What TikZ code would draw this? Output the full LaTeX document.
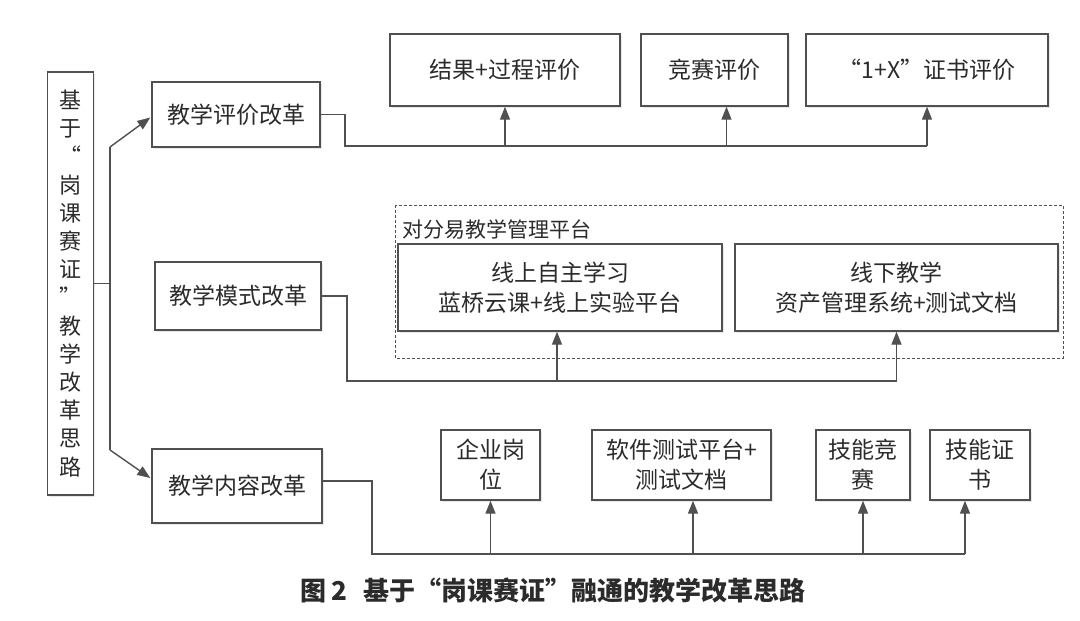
\documentclass[tikz,border=0pt]{standalone}
\usepackage{fontspec}
\setmainfont{Noto Sans CJK SC}
\usetikzlibrary{arrows.meta,calc,shadows}
\definecolor{ln}{HTML}{505050}
\definecolor{tx}{HTML}{2B2B2B}
\begin{document}
\begin{tikzpicture}[x=1pt,y=-1pt,
  box/.style={draw=ln, line width=1.4pt, fill=white, text=tx, align=center,
    inner sep=0pt, font=\fontsize{23}{30}\selectfont,
    drop shadow={opacity=0.18, shadow xshift=1.5pt, shadow yshift=-1.5pt}},
  conn/.style={draw=ln, line width=1.4pt},
  arr/.style={conn, -{Triangle[length=13pt,width=10pt]}},
  dbox/.style={draw=ln, line width=1pt, dash pattern=on 3pt off 2pt}]
\useasboundingbox (0,0) rectangle (1080,621);

% left column
\node[box, minimum width=46pt, minimum height=423pt, font=\fontsize{22}{28.2}\selectfont] (left) at (70.5,283.5)
 {基\\于\\“\\岗\\课\\赛\\证\\”\\教\\学\\改\\革\\思\\路};

\node[box, minimum width=168pt, minimum height=65pt] (evalR) at (236,114.5) {教学评价改革};
\node[box, minimum width=166pt, minimum height=68pt] (modeR) at (238,296) {教学模式改革};
\node[box, minimum width=170pt, minimum height=74pt] (contR) at (237,486) {教学内容改革};

% top row
\node[box, minimum width=230pt, minimum height=72pt] (t1) at (505,70) {结果+过程评价};
\node[box, minimum width=147pt, minimum height=72pt] (t2) at (714.5,70) {竞赛评价};
\node[box, minimum width=242pt, minimum height=72pt] (t3) at (927,70) {“1+X”证书评价};

% middle group
\draw[dbox] (395,205) rectangle (1063,358);
\node[text=tx, anchor=west, inner sep=0pt, font=\fontsize{21}{26}\selectfont] (plat) at (402,229) {对分易教学管理平台};
\node[box, minimum width=324pt, minimum height=87pt] (m1) at (560,287.5) {线上自主学习\\蓝桥云课+线上实验平台};
\node[box, minimum width=323pt, minimum height=87pt] (m2) at (896.5,287.5) {线下教学\\资产管理系统+测试文档};

% bottom row
\node[box, minimum width=99pt, minimum height=70pt] (b1) at (490.5,465) {企业岗\\位};
\node[box, minimum width=179pt, minimum height=70pt] (b2) at (681.5,465) {软件测试平台+\\测试文档};
\node[box, minimum width=94pt, minimum height=70pt] (b3) at (863,465) {技能竞\\赛};
\node[box, minimum width=100pt, minimum height=70pt] (b4) at (980,465) {技能证\\书};

% left connectors
\coordinate (hub) at (110,283.5);
\coordinate (jt) at (110,147);
\coordinate (jb) at (110,450);
\draw[conn] (left.east) -- (hub);
\draw[conn] (jt) -- (jb);
\draw[arr] (jt) -- ($(evalR.west)+(-1,3)$);
\draw[arr] (jb) -- ($(contR.west)+(-1,-8)$);

% top connectors
\coordinate (bus1) at (345,146);
\draw[conn] (evalR.east) -- (evalR.east -| bus1) -- (bus1) -- (bus1 -| t3.south);
\draw[arr] (bus1 -| t1.south) -- (t1.south);
\draw[arr] ($(bus1 -| t2.south)+(12,0)$) -- ($(t2.south)+(12,0)$);
\draw[arr] (bus1 -| t3.south) -- (t3.south);

% middle connectors
\coordinate (bus2) at (347,381);
\draw[conn] (modeR.east) -- (modeR.east -| bus2) -- (bus2) -- (bus2 -| m2.south);
\draw[arr] ($(bus2 -| m1.south)+(-3,0)$) -- ($(m1.south)+(-3,0)$);
\draw[arr] (bus2 -| m2.south) -- (m2.south);

% bottom connectors
\coordinate (cst) at ($(contR.east)+(0,-5)$);
\coordinate (bus3) at (372,554);
\coordinate (b4x) at ($(b4.south)+(-15,0)$);
\draw[conn] (cst) -- (cst -| bus3) -- (bus3) -- (bus3 -| b4x);
\draw[arr] (bus3 -| b1.south) -- (b1.south);
\draw[arr] ($(bus3 -| b2.south)+(11.5,0)$) -- ($(b2.south)+(11.5,0)$);
\draw[arr] (bus3 -| b3.south) -- (b3.south);
\draw[arr] (bus3 -| b4x) -- (b4x);

% caption
\node[text=tx, inner sep=0pt, font=\fontsize{26}{30}\selectfont\bfseries] (cap) at (553,590)
 {图\,2\hspace{16pt}基于“岗课赛证”融通的教学改革思路};
\end{tikzpicture}
\end{document}
